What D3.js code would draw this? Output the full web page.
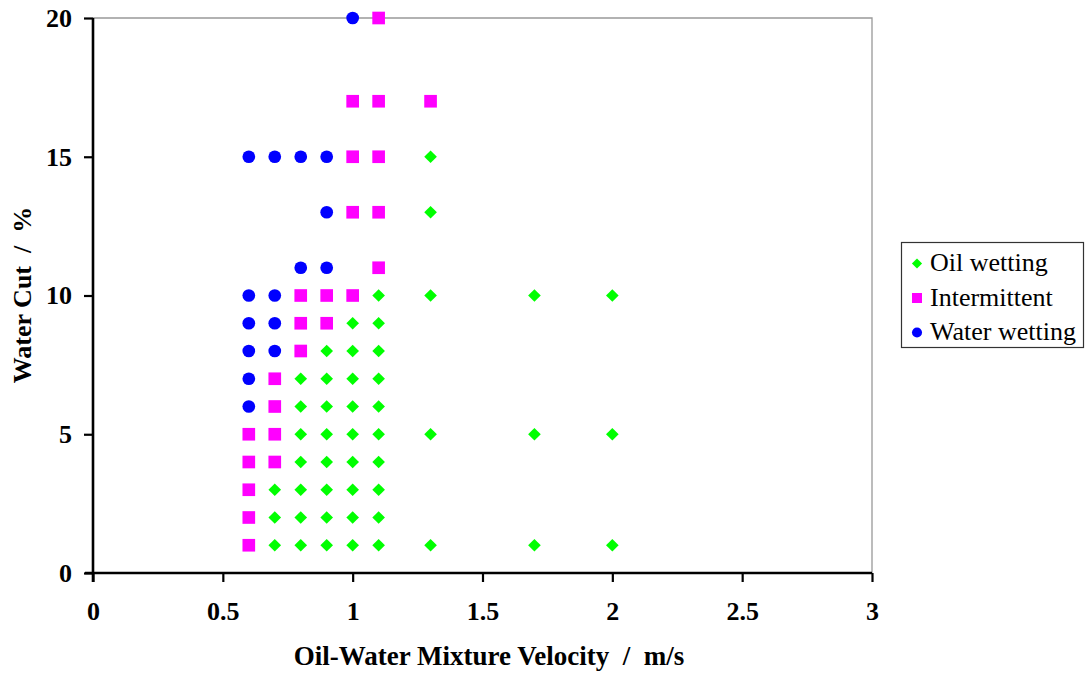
<!DOCTYPE html>
<html><head><meta charset="utf-8">
<script src="https://cdn.jsdelivr.net/npm/d3@7"></script>
<style>body{margin:0;background:#fff}svg{display:block}text{font-family:"Liberation Serif","Times New Roman",serif;white-space:pre}</style>
</head><body>
<svg id="chart" width="1090" height="675"></svg>
<script>
const seriesNames = ["Oil wetting", "Intermittent", "Water wetting"];
const seriesColors = ["#00ff00", "#ff00ff", "#0000ff"];
const oilX = [0.7,0.8,0.9,1.0,1.1,1.3,1.7,2.0, 0.7,0.8,0.9,1.0,1.1, 0.7,0.8,0.9,1.0,1.1, 0.8,0.9,1.0,1.1, 0.8,0.9,1.0,1.1,1.3,1.7,2.0, 0.8,0.9,1.0,1.1, 0.8,0.9,1.0,1.1, 0.9,1.0,1.1, 1.0,1.1, 1.1,1.3,1.7,2.0, 1.3, 1.3];
const oilY = [1,1,1,1,1,1,1,1, 2,2,2,2,2, 3,3,3,3,3, 4,4,4,4, 5,5,5,5,5,5,5, 6,6,6,6, 7,7,7,7, 8,8,8, 9,9, 10,10,10,10, 13, 15];
const intX = [0.6,0.6,0.6,0.6,0.6, 0.7,0.7,0.7,0.7, 0.8,0.8,0.8, 0.9,0.9, 1.0, 1.1, 1.0,1.1, 1.0,1.1, 1.0,1.1,1.3, 1.1];
const intY = [1,2,3,4,5, 4,5,6,7, 8,9,10, 9,10, 10, 11, 13,13, 15,15, 17,17,17, 20];
const watX = [0.6,0.6,0.6,0.6,0.6, 0.7,0.7,0.7, 0.8,0.9, 0.9, 0.6,0.7,0.8,0.9, 1.0];
const watY = [6,7,8,9,10, 8,9,10, 11,11, 13, 15,15,15,15, 20];
const xTicks = [0,0.5,1,1.5,2,2.5,3];
const yTicks = [0,5,10,15,20];
const xTitle = "Oil-Water Mixture Velocity  /  m/s";
const yTitle = "Water Cut  /  %";

const svg = d3.select("#chart");
const L = 93, R = 872, T = 18, B = 573;
const FS = 26;
const x = d3.scaleLinear().domain([0,3]).range([L,R]);
const y = d3.scaleLinear().domain([0,20]).range([B,T]);

svg.append("path").attr("d", `M${L},${T}H${R}V${B}`).attr("fill","none").attr("stroke","#999").attr("stroke-width",1.3);

const diamondType = {draw(ctx, size){ const r = Math.sqrt(size/2); ctx.moveTo(0,-r); ctx.lineTo(r,0); ctx.lineTo(0,r); ctx.lineTo(-r,0); ctx.closePath(); }};

const series = [
  {name: seriesNames[0], color: seriesColors[0], sym: diamondType, size: 80, lsize: 52, xs: oilX, ys: oilY},
  {name: seriesNames[1], color: seriesColors[1], sym: d3.symbolSquare, size: 160, lsize: 100, xs: intX, ys: intY},
  {name: seriesNames[2], color: seriesColors[2], sym: d3.symbolCircle, size: 127, lsize: 80, xs: watX, ys: watY}
];

[series[2], series[1], series[0]].forEach(s => {
  svg.append("g").selectAll("path").data(s.xs.map((v,i)=>[v, s.ys[i]])).join("path")
    .attr("d", d3.symbol().type(s.sym).size(s.size)())
    .attr("transform", d => `translate(${x(d[0])},${y(d[1])})`)
    .attr("fill", s.color);
});

const xAxis = svg.append("g").attr("transform", `translate(0,${B})`)
  .call(d3.axisBottom(x).tickValues(xTicks).tickFormat(d3.format("")).tickSizeInner(9).tickSizeOuter(0).tickPadding(20));
const yAxis = svg.append("g").attr("transform", `translate(${L},0)`)
  .call(d3.axisLeft(y).tickValues(yTicks).tickSizeInner(9).tickSizeOuter(0).tickPadding(12));
[xAxis, yAxis].forEach(a => {
  a.select(".domain").attr("stroke","#000").attr("stroke-width",2.6);
  a.selectAll(".tick line").attr("stroke","#000").attr("stroke-width",2.2);
  a.selectAll(".tick text").attr("fill","#000").attr("font-size",FS).attr("font-weight","bold")
   .attr("font-family","Liberation Serif, Times New Roman, serif");
});
xAxis.select(".domain").attr("d", `M${L-8},0H${R}`);
yAxis.select(".domain").attr("d", `M0,${T}V${B+9}`);

svg.append("text").attr("x", 489).attr("y", 665).attr("text-anchor","middle")
  .attr("font-size",27).attr("font-weight","bold").text(xTitle);
svg.append("text").attr("transform", `translate(31,295) rotate(-90)`).attr("text-anchor","middle")
  .attr("font-size",FS).attr("font-weight","bold").text(yTitle);

const lg = svg.append("g");
lg.append("rect").attr("x",901.5).attr("y",242.5).attr("width",182).attr("height",105)
  .attr("fill","#fff").attr("stroke","#333").attr("stroke-width",1.2);
series.forEach((s,i) => {
  const cy = 263.5 + i*34.5;
  lg.append("path").attr("d", d3.symbol().type(s.sym).size(s.lsize)())
    .attr("transform", `translate(917,${cy})`).attr("fill", s.color);
  lg.append("text").attr("x", 930).attr("y", cy+7.5).attr("font-size",FS).attr("fill","#000").text(s.name);
});
</script>
</body></html>
